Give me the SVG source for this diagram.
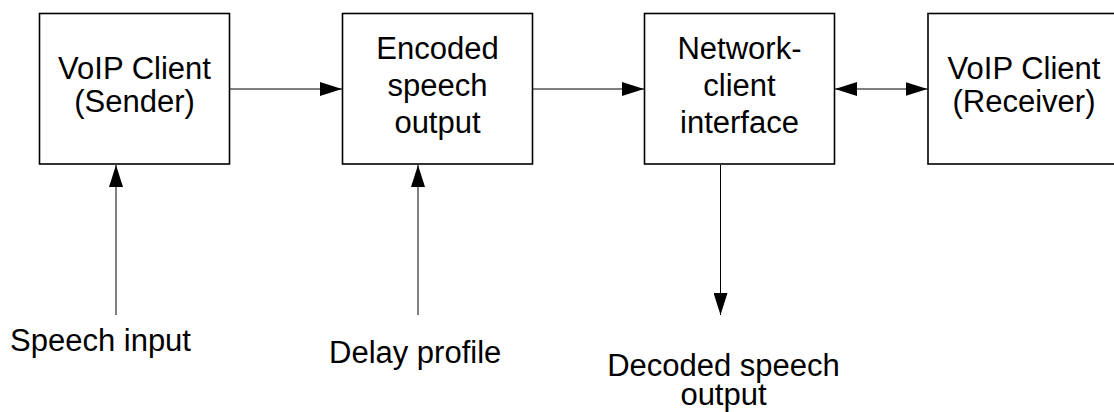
<svg xmlns="http://www.w3.org/2000/svg" width="1114" height="412" viewBox="0 0 1114 412">
<style>
  .box { fill: #ffffff; stroke: #000000; stroke-width: 1.6; }
  .lbl { font-family: "Liberation Sans", Arial, sans-serif; font-size: 31px; fill: #000000; }
  .c { text-anchor: middle; }
  .conn { fill: none; stroke: #000000; stroke-width: 1; }
</style>
<defs>
  <marker id="arr" markerUnits="userSpaceOnUse" markerWidth="22" markerHeight="14" refX="22" refY="7" orient="auto-start-reverse">
    <path d="M0,0 L22,7 L0,14 Z" fill="#000000"/>
  </marker>
</defs>
<rect width="1114" height="412" fill="#ffffff"/>
<g id="sender">
  <rect class="box" x="39.5" y="13.5" width="190" height="150.5"/>
  <text class="lbl c" x="134.5" y="79">VoIP Client</text>
  <text class="lbl c" x="134.5" y="112">(Sender)</text>
</g>
<g id="encoded">
  <rect class="box" x="342.5" y="13.5" width="190" height="150.5"/>
  <text class="lbl c" x="437.5" y="59">Encoded</text>
  <text class="lbl c" x="437.5" y="96">speech</text>
  <text class="lbl c" x="437.5" y="133">output</text>
</g>
<g id="network">
  <rect class="box" x="644.5" y="13.5" width="190" height="150.5"/>
  <text class="lbl c" x="739.5" y="59">Network-</text>
  <text class="lbl c" x="739.5" y="96">client</text>
  <text class="lbl c" x="739.5" y="133">interface</text>
</g>
<g id="receiver">
  <rect class="box" x="928" y="13.5" width="192" height="150.5"/>
  <text class="lbl c" x="1024" y="79">VoIP Client</text>
  <text class="lbl c" x="1024" y="112">(Receiver)</text>
</g>
<g id="speech-input">
  <text class="lbl" x="10" y="351">Speech input</text>
</g>
<g id="delay-profile">
  <text class="lbl" x="329" y="363">Delay profile</text>
</g>
<g id="decoded-output">
  <text class="lbl c" x="723.5" y="376">Decoded speech</text>
  <text class="lbl c" x="723.5" y="405">output</text>
</g>
<g id="connectors">
  <path class="conn" d="M230,89 H342" marker-end="url(#arr)"/>
  <path class="conn" d="M533,89 H644" marker-end="url(#arr)"/>
  <path class="conn" d="M835,89 H927.5" marker-start="url(#arr)" marker-end="url(#arr)"/>
  <path class="conn" d="M116,315 V165" marker-end="url(#arr)"/>
  <path class="conn" d="M418,315 V165" marker-end="url(#arr)"/>
  <path class="conn" d="M720.5,165 V315" marker-end="url(#arr)"/>
</g>
</svg>
